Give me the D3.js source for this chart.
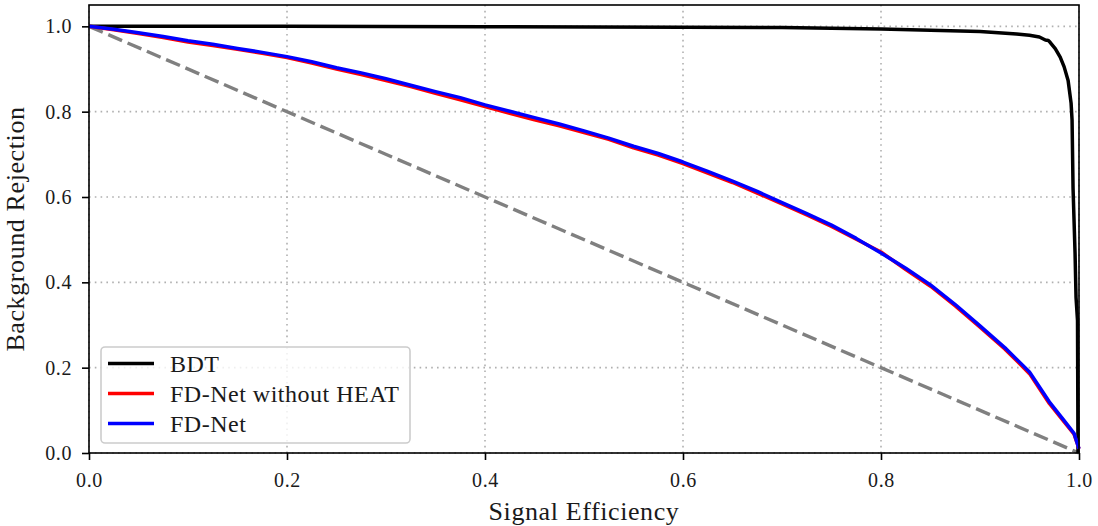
<!DOCTYPE html>
<html>
<head>
<meta charset="utf-8">
<script src="https://cdn.jsdelivr.net/npm/d3@7"></script>
<style>
  html, body { margin: 0; padding: 0; background: #fff; }
  svg { display: block; font-family: "Liberation Serif", "DejaVu Serif", serif; }
</style>
</head>
<body>
<svg id="chart" width="1098" height="526"></svg>
<script>
// ROC curves: signal efficiency vs background rejection
const signalEff = [0, 0.025, 0.05, 0.075, 0.1, 0.125, 0.15, 0.175, 0.2, 0.225, 0.25, 0.275,
  0.3, 0.325, 0.35, 0.375, 0.4, 0.425, 0.45, 0.475, 0.5, 0.525, 0.55, 0.575, 0.6, 0.625,
  0.65, 0.675, 0.7, 0.725, 0.75, 0.775, 0.8, 0.825, 0.85, 0.875, 0.9, 0.925, 0.95, 0.97,
  0.985, 0.995, 1.0];

const fdNet = [1.0, 0.993, 0.985, 0.976, 0.966, 0.958, 0.948, 0.939, 0.929, 0.917, 0.903, 0.891,
  0.877, 0.862, 0.847, 0.833, 0.816, 0.801, 0.786, 0.771, 0.755, 0.738, 0.719, 0.702, 0.682, 0.660,
  0.637, 0.613, 0.587, 0.561, 0.534, 0.503, 0.469, 0.433, 0.394, 0.348, 0.298, 0.247, 0.190, 0.120,
  0.076, 0.046, 0.010];

const fdNetNoHeat = [1.0, 0.992, 0.983, 0.974, 0.963, 0.955, 0.946, 0.937, 0.927, 0.914, 0.900, 0.887,
  0.873, 0.859, 0.843, 0.828, 0.812, 0.796, 0.781, 0.767, 0.751, 0.735, 0.715, 0.698, 0.678, 0.656,
  0.634, 0.609, 0.584, 0.558, 0.531, 0.501, 0.471, 0.430, 0.391, 0.345, 0.295, 0.244, 0.186, 0.116,
  0.073, 0.044, 0.010];

const bdtEff = [0, 0.2, 0.4, 0.6, 0.7, 0.8, 0.9, 0.937, 0.95, 0.96, 0.966, 0.969, 0.971, 0.976,
  0.981, 0.985, 0.989, 0.992, 0.993, 0.994, 0.996, 0.997, 0.9985, 0.999];
const bdtRej = [1.0, 1.0, 0.999, 0.998, 0.997, 0.994, 0.988, 0.982, 0.979, 0.975, 0.968, 0.967, 0.962, 0.948,
  0.928, 0.905, 0.873, 0.82, 0.78, 0.62, 0.47, 0.365, 0.31, 0.0];

const xTicks = [0, 0.2, 0.4, 0.6, 0.8, 1.0];
const yTicks = [0, 0.2, 0.4, 0.6, 0.8, 1.0];

const seriesNames = ["BDT", "FD-Net without HEAT", "FD-Net"];
const seriesColors = ["#000000", "#ff0000", "#0000ff"];

const svg = d3.select("#chart");
const margin = { left: 89, right: 1079, top: 5, bottom: 453 };

const x = d3.scaleLinear().domain([0, 1]).range([margin.left, margin.right]);
const y = d3.scaleLinear().domain([0, 1.05]).range([margin.bottom, margin.top]);

// grid
const grid = svg.append("g").attr("class", "grid");
grid.selectAll("line.gx").data(xTicks).join("line")
  .attr("x1", d => x(d)).attr("x2", d => x(d))
  .attr("y1", margin.top).attr("y2", margin.bottom)
  .attr("stroke", "#b0b0b0").attr("stroke-width", 1.6).attr("stroke-dasharray", "1.6,4.2");
grid.selectAll("line.gy").data(yTicks).join("line")
  .attr("x1", margin.left).attr("x2", margin.right)
  .attr("y1", d => y(d)).attr("y2", d => y(d))
  .attr("stroke", "#b0b0b0").attr("stroke-width", 1.6).attr("stroke-dasharray", "1.6,4.2");

// random-guess diagonal
svg.append("line")
  .attr("x1", x(0)).attr("y1", y(1)).attr("x2", x(1)).attr("y2", y(0))
  .attr("stroke", "#808080").attr("stroke-width", 3.4).attr("stroke-dasharray", "15,6");

const line = d3.line().x(d => x(d[0])).y(d => y(d[1]));

const curves = [
  d3.zip(bdtEff, bdtRej),
  d3.zip(signalEff, fdNetNoHeat),
  d3.zip(signalEff, fdNet)
];

svg.append("g").selectAll("path").data(curves).join("path")
  .attr("d", line)
  .attr("fill", "none")
  .attr("stroke", (d, i) => seriesColors[i])
  .attr("stroke-width", 3.5)
  .attr("stroke-linejoin", "round");

// axes
const xAxis = d3.axisBottom(x).tickValues(xTicks).tickFormat(d3.format(".1f"))
  .tickSizeInner(7).tickSizeOuter(0).tickPadding(13);
const yAxis = d3.axisLeft(y).tickValues(yTicks).tickFormat(d3.format(".1f"))
  .tickSizeInner(7).tickSizeOuter(0).tickPadding(10);

const gx = svg.append("g").attr("transform", `translate(0,${margin.bottom})`).call(xAxis);
const gy = svg.append("g").attr("transform", `translate(${margin.left},0)`).call(yAxis);
[gx, gy].forEach(g => {
  g.select(".domain").remove();
  g.selectAll(".tick line").attr("stroke", "#000").attr("stroke-width", 1.6);
  g.selectAll(".tick text").attr("fill", "#1a1a1a").style("font-size", "20px")
    .style("letter-spacing", "0.6px")
    .style("font-family", "'Liberation Serif', serif");
});

// frame
svg.append("rect")
  .attr("x", margin.left).attr("y", margin.top)
  .attr("width", margin.right - margin.left).attr("height", margin.bottom - margin.top)
  .attr("fill", "none").attr("stroke", "#000").attr("stroke-width", 1.6);

// axis titles
svg.append("text")
  .attr("x", (margin.left + margin.right) / 2).attr("y", 520)
  .attr("text-anchor", "middle").attr("fill", "#1a1a1a").style("font-size", "26px")
  .style("letter-spacing", "0.6px")
  .text("Signal Efficiency");
svg.append("text")
  .attr("transform", `translate(24,${(margin.top + margin.bottom) / 2}) rotate(-90)`)
  .attr("text-anchor", "middle").attr("fill", "#1a1a1a").style("font-size", "26px")
  .style("letter-spacing", "0.6px")
  .text("Background Rejection");

// legend
const legend = svg.append("g");
legend.append("rect")
  .attr("x", 101).attr("y", 347).attr("width", 309).attr("height", 96)
  .attr("rx", 4).attr("ry", 4)
  .attr("fill", "#fff").attr("fill-opacity", 0.8)
  .attr("stroke", "#cccccc").attr("stroke-width", 1.6);
const rows = legend.selectAll("g.row").data(seriesNames).join("g")
  .attr("transform", (d, i) => `translate(0,${363.5 + i * 30})`);
rows.append("line")
  .attr("x1", 108).attr("x2", 154).attr("y1", 0).attr("y2", 0)
  .attr("stroke", (d, i) => seriesColors[i]).attr("stroke-width", 3.5);
rows.append("text")
  .attr("x", 170).attr("y", 0).attr("dy", "0.35em")
  .attr("fill", "#1a1a1a").style("font-size", "24px")
  .style("letter-spacing", "0.5px")
  .text(d => d);
</script>
</body>
</html>
